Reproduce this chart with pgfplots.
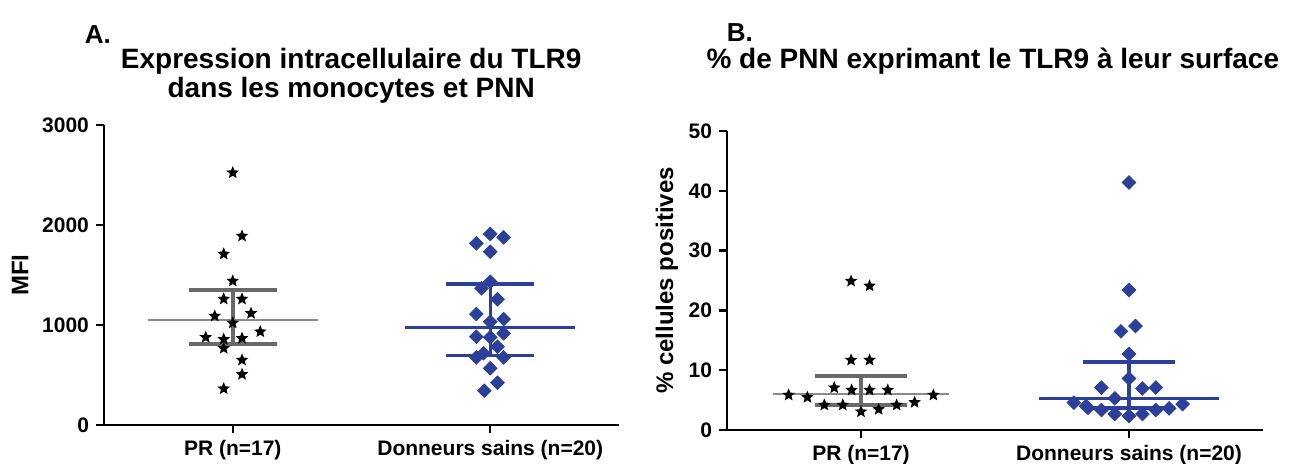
\documentclass[border=0pt]{standalone}
\usepackage{pgfplots}
\pgfplotsset{compat=1.18}
\usepackage{fontspec}
\setmainfont{Liberation Sans}

\definecolor{gpblue}{RGB}{44,64,154}
\definecolor{gpgray}{RGB}{138,138,138}
\definecolor{gpdgray}{RGB}{105,105,105}

% filled five-pointed star
\pgfdeclareplotmark{fstar}{%
  \pgfpathmoveto{\pgfpointpolar{90}{\pgfplotmarksize}}%
  \pgfpathlineto{\pgfpointpolar{126}{0.45\pgfplotmarksize}}%
  \pgfpathlineto{\pgfpointpolar{162}{\pgfplotmarksize}}%
  \pgfpathlineto{\pgfpointpolar{198}{0.45\pgfplotmarksize}}%
  \pgfpathlineto{\pgfpointpolar{234}{\pgfplotmarksize}}%
  \pgfpathlineto{\pgfpointpolar{270}{0.45\pgfplotmarksize}}%
  \pgfpathlineto{\pgfpointpolar{306}{\pgfplotmarksize}}%
  \pgfpathlineto{\pgfpointpolar{342}{0.45\pgfplotmarksize}}%
  \pgfpathlineto{\pgfpointpolar{18}{\pgfplotmarksize}}%
  \pgfpathlineto{\pgfpointpolar{54}{0.45\pgfplotmarksize}}%
  \pgfpathclose
  \pgfusepathqfill
}

\pgfplotsset{
  gp/.style={
    scale only axis,
    axis x line*=bottom, axis y line*=left,
    axis line style={line width=1.2pt, black},
    tick style={line width=1.2pt, black},
    major tick length=4pt, tick align=outside,
    xtick={0,1}, xticklabels={PR (n=17), Donneurs sains (n=20)},
    xmin=-0.5, xmax=1.5, ymin=0, clip=false,
    ticklabel style={font=\fontsize{10.5}{12}\selectfont\bfseries},
    /pgf/number format/assume math mode=true,
    /pgf/number format/set thousands separator={},
    ylabel style={font=\fontsize{12}{14}\selectfont\bfseries, anchor=center},
    title style={font=\fontsize{14}{14.5}\selectfont\bfseries, align=center, anchor=center, yshift=0pt},
  },
  stars/.style={only marks, mark=fstar, mark size=3.3pt, black},
  diams/.style={only marks, mark=square*, mark size=2.4pt, gpblue, mark options={rotate=45}},
}

\begin{document}
\begin{tikzpicture}
\useasboundingbox (0,0) rectangle (651pt,-231.5pt);

% Panel A
\begin{axis}[gp,
  at={(52pt,-212.5pt)}, anchor=south west,
  width=257.5pt, height=150pt,
  ymax=3000, ytick={0,1000,2000,3000},
  ylabel={MFI},
  ylabel style={at={(axis description cs:-0.163,0.5)}},
  title={Expression intracellulaire du TLR9\\dans les monocytes et PNN},
  title style={at={(axis description cs:0.48,1.125)}},
]
\addplot[stars] coordinates {
  (0,2523) (0.036,1890) (-0.035,1710) (0,1440) (-0.035,1260) (0.036,1260)
  (-0.07,1090) (0.071,1117) (0.107,933) (-0.105,877) (-0.035,857) (0.036,867)
  (-0.035,767) (0.036,650) (0.036,507) (-0.035,363) (0,1020)
};
\addplot[diams] coordinates {
  (0.946,1817) (1,1910) (1.052,1877) (1,1733) (1,1433) (0.966,1367)
  (1.028,1257) (0.946,1110) (1,1033) (1.052,1060) (1.052,917) (0.946,883)
  (1,877) (1.028,783) (0.946,677) (0.974,717) (1.052,677) (1,567)
  (1.028,423) (0.977,343)
};
% mean and error bars
\addplot[gpgray, line width=1pt] coordinates {(-0.33,1053) (0.33,1053)};
\addplot[gpdgray, line width=2pt] coordinates {(-0.17,1350) (0.17,1350)};
\addplot[gpdgray, line width=2pt] coordinates {(-0.17,810) (0.17,810)};
\addplot[gpdgray, line width=2pt] coordinates {(0,810) (0,1350)};
\addplot[gpblue, line width=1.4pt] coordinates {(0.67,977) (1.33,977)};
\addplot[gpblue, line width=1.6pt] coordinates {(0.83,1410) (1.17,1410)};
\addplot[gpblue, line width=1.6pt] coordinates {(0.83,693) (1.17,693)};
\addplot[gpblue, line width=1.6pt] coordinates {(1,693) (1,1410)};
\node[font=\fontsize{13}{15}\selectfont\bfseries] at (axis description cs:-0.012,1.30) {A.};
\end{axis}

% Panel B
\begin{axis}[gp,
  at={(363.5pt,-215pt)}, anchor=south west,
  width=268pt, height=149.5pt,
  ymax=50, ytick={0,10,20,30,40,50},
  ylabel={\% cellules positives},
  ylabel style={at={(axis description cs:-0.112,0.5)}},
  title={\% de PNN exprimant le TLR9 à leur surface},
  title style={at={(axis description cs:0.496,1.194)}},
]
\addplot[stars] coordinates {
  (-0.037,24.9) (0.032,24.1) (-0.037,11.7) (0.032,11.7) (-0.10,7.07)
  (-0.035,6.68) (0.032,6.68) (0.10,6.68) (-0.27,5.85) (-0.20,5.46)
  (0.27,5.85) (0.20,4.62) (-0.137,4.18) (-0.068,4.18) (0.133,4.18)
  (0.066,3.45) (0,3.06)
};
\addplot[diams] coordinates {
  (1,41.4) (1,23.4) (0.97,16.5) (1.024,17.4) (1,12.7) (1,8.6)
  (0.897,7.1) (1.05,6.95) (1.10,7.1) (0.947,5.3) (0.794,4.57) (0.84,4.0)
  (1.20,4.34) (0.897,3.34) (0.947,2.67) (1,2.34) (1.05,2.67) (1.10,3.34)
  (1.15,3.62) (0.847,3.7)
};
\addplot[gpgray, line width=1pt] coordinates {(-0.33,5.96) (0.33,5.96)};
\addplot[gpdgray, line width=2pt] coordinates {(-0.17,9.07) (0.17,9.07)};
\addplot[gpdgray, line width=2pt] coordinates {(-0.17,4.18) (0.17,4.18)};
\addplot[gpdgray, line width=2pt] coordinates {(0,4.18) (0,9.07)};
\addplot[gpblue, line width=1.4pt] coordinates {(0.665,5.23) (1.335,5.23)};
\addplot[gpblue, line width=2pt] coordinates {(0.83,11.4) (1.17,11.4)};
\addplot[gpblue, line width=2pt] coordinates {(0.83,3.6) (1.17,3.6)};
\addplot[gpblue, line width=2pt] coordinates {(1,3.6) (1,11.4)};
\node[font=\fontsize{13}{15}\selectfont\bfseries] at (axis description cs:0.024,1.328) {B.};
\end{axis}
\end{tikzpicture}
\end{document}
